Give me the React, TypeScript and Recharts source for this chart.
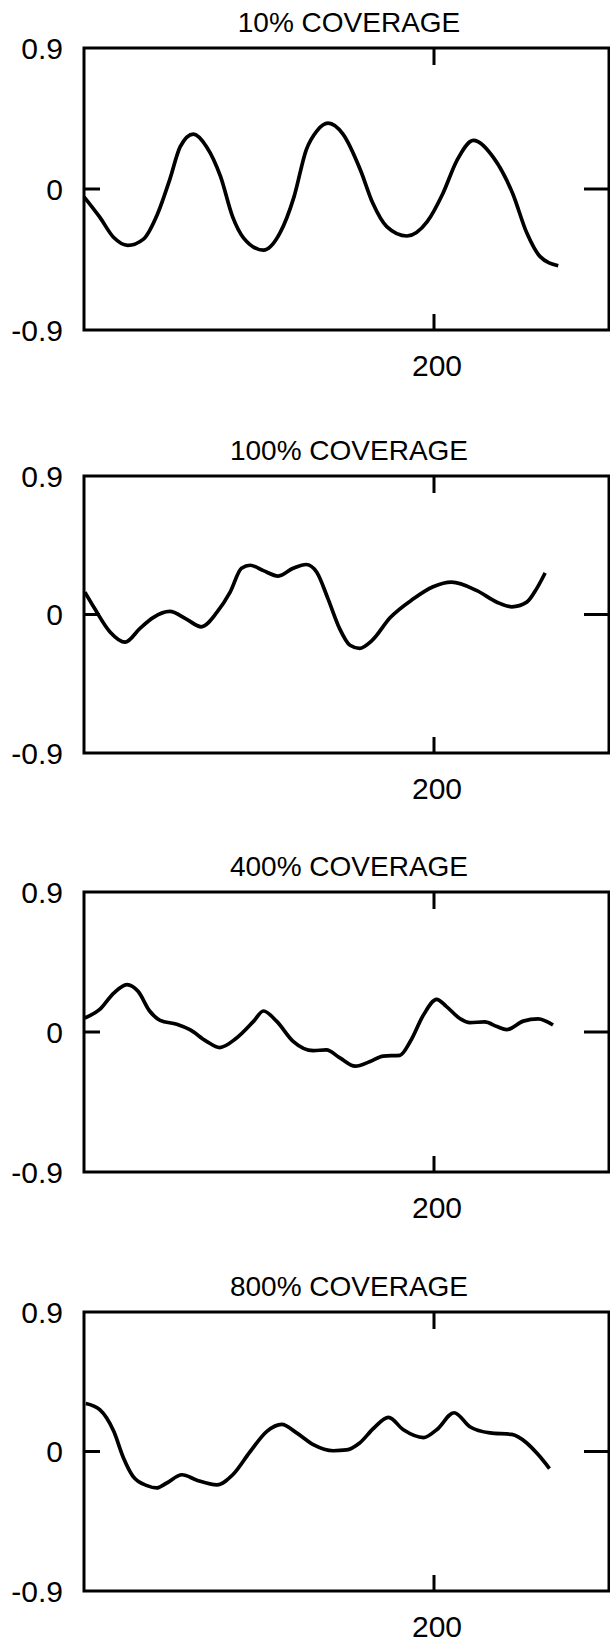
import React from 'react';
import { LineChart, Line, XAxis, YAxis, ReferenceArea } from 'recharts';

const TITLES = ['10% COVERAGE', '100% COVERAGE', '400% COVERAGE', '800% COVERAGE'];
const X_TICKS = [200];
const Y_TICKS = [-0.9, 0, 0.9];
const X_DOMAIN: [number, number] = [0, 300];
const Y_DOMAIN: [number, number] = [-0.9, 0.9];

const X10 = [0, 9, 17, 25, 34, 42, 49, 55, 62.5, 70, 78, 85, 91, 102.5, 112, 120, 127, 133, 139.5, 148, 158, 165, 173, 184.5, 196, 205, 213, 222.5, 234, 245, 253, 260.5, 271];
const Y10 = [-0.05, -0.18, -0.31, -0.36, -0.32, -0.16, 0.06, 0.27, 0.35, 0.27, 0.08, -0.18, -0.31, -0.39, -0.28, -0.05, 0.25, 0.37, 0.42, 0.35, 0.12, -0.09, -0.24, -0.3, -0.21, -0.03, 0.18, 0.31, 0.2, -0.03, -0.28, -0.43, -0.49];

const X100 = [0.5, 6, 15, 23.5, 32, 39.5, 49, 58.5, 67, 76, 83.5, 90, 95, 102.5, 111, 119.5, 127, 133, 139.5, 146, 152, 157.5, 164.5, 175, 188, 199.5, 210, 224.5, 236, 244.5, 253, 258.5, 263.5];
const Y100 = [0.145, 0.04, -0.115, -0.18, -0.09, -0.02, 0.02, -0.03, -0.08, 0.015, 0.145, 0.3, 0.32, 0.285, 0.25, 0.3, 0.325, 0.275, 0.1, -0.09, -0.2, -0.22, -0.17, -0.02, 0.1, 0.18, 0.21, 0.155, 0.08, 0.05, 0.08, 0.165, 0.27];

const X400 = [0.5, 9, 17, 24.5, 31, 37.5, 43.5, 53, 60.5, 70, 77.5, 87, 97, 102.5, 110, 119.5, 131, 138.5, 146, 155, 163.5, 171, 180.5, 186.5, 194, 201.5, 207, 215, 220.5, 229, 236, 241.5, 251, 259.5, 268];
const Y400 = [0.09, 0.145, 0.25, 0.305, 0.26, 0.135, 0.075, 0.05, 0.015, -0.06, -0.1, -0.04, 0.07, 0.135, 0.07, -0.06, -0.12, -0.115, -0.165, -0.22, -0.19, -0.155, -0.15, -0.06, 0.11, 0.21, 0.165, 0.085, 0.06, 0.065, 0.035, 0.015, 0.07, 0.085, 0.045];

const X800 = [1, 9, 17, 22.5, 28, 36, 41.5, 47, 56, 64.5, 76, 85, 95, 104.5, 113, 121.5, 131, 142.5, 150, 157.5, 165.5, 174, 182.5, 194, 201.5, 211.5, 220.5, 232, 244.5, 253, 259.5, 266];
const Y800 = [0.31, 0.27, 0.13, -0.04, -0.16, -0.22, -0.235, -0.205, -0.15, -0.185, -0.215, -0.15, 0.0, 0.13, 0.175, 0.12, 0.045, 0.005, 0.01, 0.055, 0.15, 0.22, 0.14, 0.09, 0.14, 0.25, 0.16, 0.12, 0.11, 0.055, -0.02, -0.11];

const SERIES_X = [X10, X100, X400, X800];
const SERIES_Y = [Y10, Y100, Y400, Y800];

const BOX_TOP = [48, 476, 892, 1312];
const BOX_H = [282, 277, 280, 279];
const M_TOP = 48;
const X_AXIS_H = 70;
const Y_AXIS_W = 84;
const PLOT_W = 525;
const X_MARGIN = 25;
const Y_MARGIN = 21;
const FONT = '"Liberation Sans", Arial, Helvetica, sans-serif';
const INK = '#000';
const FONT_SIZE = 30;

const fmtY = (v: number) => (v === 0 ? '0' : String(v));

function makeXTick(h: number) {
  return function XTick(props: any) {
    const { x, y, payload } = props;
    const axisY = y - X_MARGIN;
    return (
      <g>
        <line x1={x} x2={x} y1={axisY} y2={axisY - 16} stroke={INK} strokeWidth={3} />
        <line x1={x} x2={x} y1={axisY - h} y2={axisY - h + 17} stroke={INK} strokeWidth={3} />
        <text
          x={x + 3}
          y={y}
          dy="0.71em"
          textAnchor="middle"
          fill={INK}
          fontSize={FONT_SIZE}
          fontFamily={FONT}
        >
          {payload.value}
        </text>
      </g>
    );
  };
}

function YTick(props: any) {
  const { x, y, payload } = props;
  const axisX = x + Y_MARGIN;
  const isZero = payload.value === 0;
  return (
    <g>
      {isZero && <line x1={axisX} x2={axisX + 16} y1={y} y2={y} stroke={INK} strokeWidth={3} />}
      {isZero && (
        <line x1={axisX + PLOT_W - 25} x2={axisX + PLOT_W} y1={y} y2={y} stroke={INK} strokeWidth={3} />
      )}
      <text
        x={x}
        y={y}
        dy="0.355em"
        textAnchor="end"
        fill={INK}
        fontSize={FONT_SIZE}
        fontFamily={FONT}
      >
        {fmtY(payload.value)}
      </text>
    </g>
  );
}

function Panel({ i }: { i: number }) {
  const data = SERIES_X[i].map((x, k) => ({ x, y: SERIES_Y[i][k] }));
  const h = BOX_H[i];
  const totalH = M_TOP + h + X_AXIS_H;
  return (
    <div style={{ position: 'absolute', left: 0, top: BOX_TOP[i] - M_TOP, width: 610, height: totalH }}>
      <div
        style={{
          position: 'absolute',
          left: 86,
          width: 526,
          top: M_TOP - 39,
          fontFamily: FONT,
          fontSize: 28,
          lineHeight: '28px',
          textAlign: 'center',
          color: INK,
          whiteSpace: 'nowrap',
        }}
      >
        {TITLES[i]}
      </div>
      <LineChart
        width={610}
        height={totalH}
        data={data}
        margin={{ top: M_TOP, right: 610 - Y_AXIS_W - PLOT_W, bottom: 0, left: 0 }}
        style={{ position: 'absolute', left: 0, top: 0 }}
      >
        <XAxis
          xAxisId="x"
          dataKey="x"
          type="number"
          domain={X_DOMAIN}
          ticks={X_TICKS}
          orientation="bottom"
          height={X_AXIS_H}
          tickSize={0}
          tickMargin={X_MARGIN}
          tickLine={false}
          axisLine={false}
          tick={makeXTick(h)}
          allowDataOverflow
        />
        <YAxis
          yAxisId="y"
          type="number"
          domain={Y_DOMAIN}
          ticks={Y_TICKS}
          orientation="left"
          width={Y_AXIS_W}
          tickSize={0}
          tickMargin={Y_MARGIN}
          tickLine={false}
          axisLine={false}
          tick={YTick}
          allowDataOverflow
        />
        <ReferenceArea
          xAxisId="x"
          yAxisId="y"
          x1={X_DOMAIN[0]}
          x2={X_DOMAIN[1]}
          y1={Y_DOMAIN[0]}
          y2={Y_DOMAIN[1]}
          fill="none"
          fillOpacity={0}
          stroke={INK}
          strokeWidth={3}
          ifOverflow="visible"
        />
        <Line
          xAxisId="x"
          yAxisId="y"
          dataKey="y"
          type="monotone"
          stroke={INK}
          strokeWidth={3.7}
          dot={false}
          activeDot={false}
          isAnimationActive={false}
        />
      </LineChart>
    </div>
  );
}

export default function App() {
  return (
    <div style={{ position: 'absolute', left: 0, top: 0, width: 610, height: 1645, background: '#fff' }}>
      {TITLES.map((_, i) => (
        <Panel key={i} i={i} />
      ))}
    </div>
  );
}
